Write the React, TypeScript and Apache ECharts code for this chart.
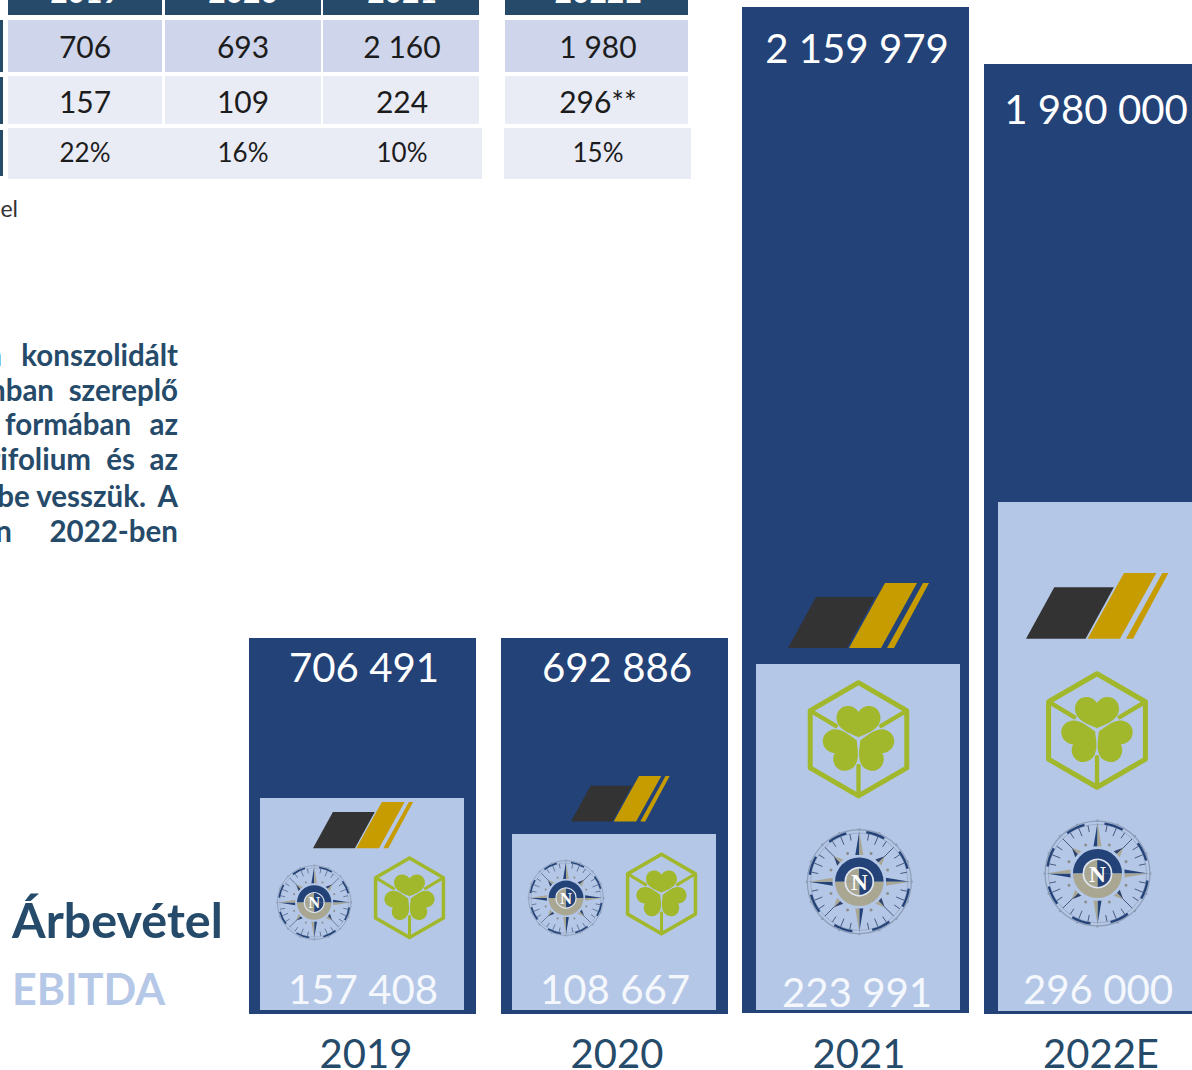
import React, { useEffect, useRef } from "react";
import * as echarts from "echarts";

// ---------- data ----------
const categories = ["2019", "2020", "2021", "2022E"];
const revenueLabels = ["706 491", "692 886", "2 159 979", "1 980 000"];
const ebitdaLabels = ["157 408", "108 667", "223 991", "296 000"];
// Drawn heights (the original slide is not to scale)
const revenueHeights = [376, 376, 1007, 950];
const ebitdaHeights = [216, 180, 350, 512];

const tableHeader = ["2019", "2020", "2021", "2022E"];
const tableRevenue = ["706", "693", "2 160", "1 980"];
const tableEbitda = ["157", "109", "224", "296**"];
const tableMargin = ["22%", "16%", "10%", "15%"];

// ---------- layout ----------
const W = 1192;
const H = 1070;
const BASE_Y = 1014;
const revenueCenters = [362.5, 614.5, 855.5, 1097.5];
const ebitdaCenters = [362, 614, 858, 1100];
const yearCenters = [366, 617, 859, 1101];
const revenueLabelCenters = [364, 617, 857, 1096];
const revenueLabelY = [666.5, 666.5, 47, 108];
const ebitdaLabelCenters = [363, 615, 857, 1098];
const ebitdaLabelY = [988.5, 988.5, 991, 988.5];
const revenueBase = [0, 0, 1, 0];
const ebitdaBase = [4, 4, 4, 3];
const REV_W = 227;
const EB_W = 204;

const NAVY = "#234278";
const LIGHT = "#b4c7e7";
const SLATE = "#264b6a";
const GOLD = "#c79c00";
const CHAR = "#333333";
const GREEN = "#a2b82c";
const TAN = "#a9a692";
const FONT = "Lato, 'Open Sans', sans-serif";

const heartPath =
  "M0,-6 C-12,-14 -66,-26 -66,-64 C-66,-86 -50,-100 -32,-100 C-17,-100 -6,-92 0,-82 C6,-92 17,-100 32,-100 C50,-100 66,-86 66,-64 C66,-26 12,-14 0,-6 Z";
echarts.graphic.registerShape("heartMark", echarts.graphic.extendPath(heartPath, {}));

function withZ(el: any, z: number) {
  if (el.children) el.children.forEach((c: any) => withZ(c, z));
  else el.z = z;
  return el;
}

function wings(x: number, y: number, s: number) {
  const poly = (pts: number[][], fill: string) => ({
    type: "polygon",
    shape: { points: pts },
    style: { fill },
  });
  return withZ(
    {
      type: "group",
      x,
      y,
      scaleX: s,
      scaleY: s,
      children: [
        poly([[0, 65], [28, 14], [87, 14], [59, 65]], CHAR),
        poly([[61, 65], [97, 0], [129, 0], [93, 65]], GOLD),
        poly([[99, 65], [135, 0], [141, 0], [106, 65]], GOLD),
      ],
    },
    10
  );
}

function clover(cx: number, cy: number, R: number) {
  const s = R / 175;
  const lineCfg = { stroke: GREEN, lineWidth: 13, lineCap: "round" };
  return withZ(
    {
      type: "group",
      x: cx,
      y: cy,
      scaleX: s,
      scaleY: s,
      children: [
        {
          type: "polygon",
          shape: { points: [[0, -170], [145, -86], [145, 86], [0, 170], [-145, 86], [-145, -86]] },
          style: { fill: "none", stroke: GREEN, lineWidth: 15, lineJoin: "round" },
        },
        { type: "line", shape: { x1: -138, y1: -82, x2: -68, y2: -40 }, style: lineCfg },
        { type: "line", shape: { x1: 138, y1: -82, x2: 68, y2: -40 }, style: lineCfg },
        { type: "line", shape: { x1: 0, y1: 165, x2: 0, y2: 80 }, style: lineCfg },
        { type: "heartMark", rotation: 0, style: { fill: GREEN } },
        { type: "heartMark", rotation: (2 * Math.PI) / 3, style: { fill: GREEN } },
        { type: "heartMark", rotation: (-2 * Math.PI) / 3, style: { fill: GREEN } },
      ],
    },
    10
  );
}

function compass(cx: number, cy: number, R: number) {
  const s = R / 159;
  const children: any[] = [];
  const rad = (d: number) => (d * Math.PI) / 180;
  const pt = (r: number, d: number) => [r * Math.cos(rad(d)), r * Math.sin(rad(d))];
  children.push({
    type: "circle",
    shape: { cx: 0, cy: 0, r: 156 },
    style: { fill: "none", stroke: "#8f9fb8", lineWidth: 4 },
  });
  children.push({
    type: "circle",
    shape: { cx: 0, cy: 0, r: 146 },
    style: { fill: "none", stroke: "#8f9fb8", lineWidth: 2 },
  });
  // dark ring segments
  for (let a = 0; a < 360; a += 45) {
    children.push({
      type: "arc",
      shape: { cx: 0, cy: 0, r: 150, startAngle: rad(a + 8), endAngle: rad(a + 30) },
      style: { fill: "none", stroke: NAVY, lineWidth: 7 },
    });
  }
  // ticks
  for (let a = 0; a < 360; a += 11.25) {
    if (a % 90 === 0) continue;
    const inner = a % 45 === 0 ? 98 : a % 22.5 === 0 ? 120 : 126;
    const p1 = pt(inner, a);
    const p2 = pt(146, a);
    children.push({
      type: "line",
      shape: { x1: p1[0], y1: p1[1], x2: p2[0], y2: p2[1] },
      style: { stroke: "#33466b", lineWidth: 2.5 },
    });
  }
  // outer dots
  for (let a = 0; a < 360; a += 22.5) {
    const p = pt(157, a);
    children.push({
      type: "circle",
      shape: { cx: p[0], cy: p[1], r: 4 },
      style: { fill: "#8f9fb8" },
    });
  }
  // inner dots
  [22.5, 67.5, 112.5, 157.5, 202.5, 247.5, 292.5, 337.5].forEach((a) => {
    const p = pt(92, a);
    children.push({
      type: "circle",
      shape: { cx: p[0], cy: p[1], r: 4.5 },
      style: { fill: "#8d8f8f" },
    });
  });
  // star points
  [0, 90, 180, 270].forEach((a) => {
    const tip = pt(152, a);
    const b1 = pt(12, a - 90);
    const b2 = pt(12, a + 90);
    const m = pt(80, a);
    children.push({
      type: "polygon",
      shape: { points: [tip, [m[0] + b1[0], m[1] + b1[1]], m] },
      style: { fill: NAVY },
    });
    children.push({
      type: "polygon",
      shape: { points: [tip, m, [m[0] + b2[0], m[1] + b2[1]]] },
      style: { fill: TAN },
    });
  });
  // small diagonal points
  [45, 135, 225, 315].forEach((a) => {
    const tip = pt(108, a);
    const b1 = pt(82, a - 9);
    const b2 = pt(82, a + 9);
    const m = pt(82, a);
    children.push({ type: "polygon", shape: { points: [tip, b1, m] }, style: { fill: "#30436a" } });
    children.push({ type: "polygon", shape: { points: [tip, m, b2] }, style: { fill: TAN } });
  });
  // hub
  children.push({
    type: "circle",
    shape: { cx: 0, cy: 0, r: 80 },
    style: { fill: LIGHT },
  });
  children.push({
    type: "sector",
    shape: { cx: 0, cy: 0, r: 73, startAngle: Math.PI, endAngle: 2 * Math.PI },
    style: { fill: NAVY },
  });
  children.push({
    type: "sector",
    shape: { cx: 0, cy: 0, r: 73, startAngle: 0, endAngle: Math.PI },
    style: { fill: TAN },
  });
  children.push({
    type: "sector",
    shape: { cx: 0, cy: 0, r: 42, startAngle: 0, endAngle: Math.PI / 2 },
    style: { fill: NAVY },
  });
  children.push({
    type: "sector",
    shape: { cx: 0, cy: 0, r: 42, startAngle: Math.PI / 2, endAngle: Math.PI },
    style: { fill: TAN },
  });
  children.push({
    type: "sector",
    shape: { cx: 0, cy: 0, r: 42, startAngle: Math.PI, endAngle: 1.5 * Math.PI },
    style: { fill: TAN },
  });
  children.push({
    type: "sector",
    shape: { cx: 0, cy: 0, r: 42, startAngle: 1.5 * Math.PI, endAngle: 2 * Math.PI },
    style: { fill: NAVY },
  });
  children.push({
    type: "circle",
    shape: { cx: 0, cy: 0, r: 42 },
    style: { fill: "none", stroke: "#dfe6f2", lineWidth: 5 },
  });
  children.push({
    type: "text",
    x: 0,
    y: 2,
    style: {
      text: "N",
      fill: "#ffffff",
      font: "bold 70px 'Liberation Serif', serif",
      align: "center",
      verticalAlign: "middle",
    },
  });
  return withZ({ type: "group", x: cx, y: cy, scaleX: s, scaleY: s, children }, 10);
}

function txt(
  text: string,
  x: number,
  y: number,
  size: number,
  fill: string,
  align: string,
  weight = "normal"
) {
  return {
    type: "text",
    x,
    y,
    z: 10,
    style: {
      text,
      fill,
      font: `${weight} ${size}px ${FONT}`,
      align,
      verticalAlign: "middle",
    },
  };
}

function rect(x: number, y: number, w: number, h: number, fill: string) {
  return { type: "rect", z: 5, shape: { x, y, width: w, height: h }, style: { fill } };
}

const colX = [8, 165, 323, 505];
const colW = [154, 156, 156, 183];
const colC = [85, 243, 402, 598];

function tableGraphics() {
  const out: any[] = [];
  colX.forEach((x, i) => {
    out.push(rect(x, 0, colW[i], 15, SLATE));
    out.push(rect(x, 20, colW[i], 52, "#cfd5ea"));
    out.push(rect(x, 76, colW[i], 48, "#e9ebf5"));
  });
  out.push(rect(8, 128, 474, 51, "#e9ebf5"));
  out.push(rect(504, 128, 187, 51, "#e9ebf5"));
  out.push(rect(0, 20, 3, 52, SLATE));
  out.push(rect(0, 77, 3, 47, SLATE));
  out.push(rect(0, 130, 3, 46, SLATE));
  colC.forEach((c, i) => {
    out.push(txt(tableHeader[i], c, -9, 30, "#ffffff", "center", "bold"));
    out.push(txt(tableRevenue[i], c, 46, 30, "#1c1c1c", "center"));
    out.push(txt(tableEbitda[i], c, 101, 30, "#1c1c1c", "center"));
    out.push(txt(tableMargin[i], c, 151.5, 26, "#1c1c1c", "center"));
  });
  out.push(txt("el", 18, 208, 23, "#333333", "right"));
  return out;
}

const paragraph: [string, number, number, string][] = [
  ["n", 2, 354.5, "right"],
  ["konszolidált", 178, 354.5, "right"],
  ["mban", 54, 389.5, "right"],
  ["szereplő", 178, 389.5, "right"],
  ["formában", 5, 423.5, "left"],
  ["az", 178, 423.5, "right"],
  ["Trifolium", 91, 458.5, "right"],
  ["és", 135, 458.5, "right"],
  ["az", 178, 458.5, "right"],
  ["be vesszük.", 146, 495.5, "right"],
  ["A", 178, 495.5, "right"],
  ["n", 12, 530.5, "right"],
  ["2022-ben", 178, 530.5, "right"],
];

export default function App() {
  const ref = useRef<HTMLDivElement>(null);
  useEffect(() => {
    const chart = echarts.init(ref.current!, undefined, { renderer: "svg" });
    const seriesLabel = (text: string, x: number, y: number, size: number, fill: string) => ({
      type: "text",
      x,
      y,
      style: { text, fill, font: `normal ${size}px ${FONT}`, align: "center", verticalAlign: "middle" },
    });
    chart.setOption({
      animation: false,
      backgroundColor: "#ffffff",
      grid: { left: 0, right: 0, top: 0, height: BASE_Y },
      xAxis: { type: "value", min: 0, max: W, show: false },
      yAxis: { type: "value", min: 0, max: BASE_Y, show: false },
      series: [
        {
          name: "Árbevétel",
          type: "custom",
          z: 2,
          clip: false,
          data: revenueHeights.map((h, i) => [revenueCenters[i], h, revenueBase[i]]),
          renderItem: (params: any, api: any) => {
            const i = params.dataIndex;
            const a = api.coord([api.value(0) - REV_W / 2, api.value(1)]);
            const b = api.coord([api.value(0) + REV_W / 2, api.value(2)]);
            return {
              type: "group",
              children: [
                { type: "rect", shape: { x: a[0], y: a[1], width: b[0] - a[0], height: b[1] - a[1] }, style: { fill: NAVY } },
                seriesLabel(categories[i], yearCenters[i], 1052.5, 40, SLATE),
                seriesLabel(revenueLabels[i], revenueLabelCenters[i], revenueLabelY[i], 40.2, "#ffffff"),
              ],
            };
          },
        },
        {
          name: "EBITDA",
          type: "custom",
          z: 3,
          clip: false,
          data: ebitdaHeights.map((h, i) => [ebitdaCenters[i], h, ebitdaBase[i]]),
          renderItem: (params: any, api: any) => {
            const i = params.dataIndex;
            const a = api.coord([api.value(0) - EB_W / 2, api.value(1)]);
            const b = api.coord([api.value(0) + EB_W / 2, api.value(2)]);
            return {
              type: "group",
              children: [
                { type: "rect", shape: { x: a[0], y: a[1], width: b[0] - a[0], height: b[1] - a[1] }, style: { fill: LIGHT } },
                seriesLabel(ebitdaLabels[i], ebitdaLabelCenters[i], ebitdaLabelY[i], 40.2, "#f4f7fc"),
              ],
            };
          },
        },
      ],
      graphic: {
        elements: [
          ...tableGraphics(),
          ...paragraph.map(([t, x, y, al]) => txt(t, x, y, 29.5, SLATE, al, "bold")),
          txt("Árbevétel", 12, 918.5, 48.5, SLATE, "left", "bold"),
          txt("EBITDA", 12, 988, 43, "#b5c8e7", "left", "bold"),
          wings(313, 802, 0.71),
          wings(571, 776, 0.7),
          wings(788, 583, 1),
          wings(1026, 573, 1.01),
          clover(409.5, 897.8, 41),
          clover(661.5, 894, 41),
          clover(858.5, 739.3, 58.3),
          clover(1097, 730.5, 58.5),
          compass(314.2, 902.5, 37.5),
          compass(566, 898, 38),
          compass(859.3, 881.7, 53),
          compass(1097.5, 873.5, 53.5),
        ],
      },
    });
    return () => chart.dispose();
  }, []);
  return (
    <div
      ref={ref}
      style={{ position: "absolute", left: 0, top: 0, width: W, height: H, overflow: "hidden" }}
    />
  );
}
